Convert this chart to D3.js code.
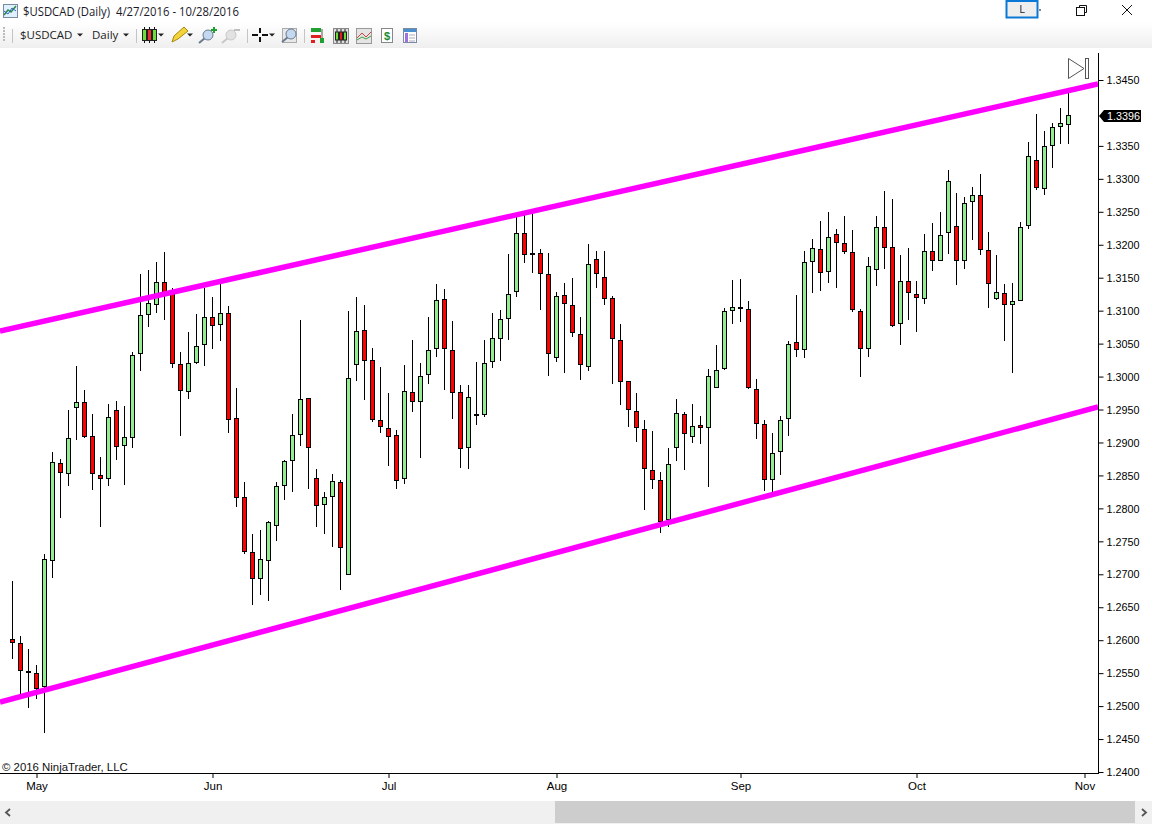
<!DOCTYPE html>
<html><head><meta charset="utf-8">
<script src="https://cdn.jsdelivr.net/npm/d3@7"></script>
<style>
html,body{margin:0;padding:0;background:#fff;overflow:hidden}
svg{display:block}
text{white-space:pre}
.ax text{font-family:"Liberation Sans",Arial,sans-serif;font-size:11px;fill:#000}
</style></head><body>
<script>
const opens=[1.26012,1.25952,1.25527,1.25497,1.25284,1.27206,1.28683,1.28516,1.29518,1.29609,1.29093,1.28501,1.28440,1.29487,1.28941,1.29062,1.30337,1.30929,1.31081,1.31430,1.31263,1.30185,1.29761,1.30201,1.30474,1.30899,1.30777,1.30959,1.29366,1.28167,1.27333,1.26923,1.27196,1.27727,1.28334,1.28714,1.29108,1.29669,1.28456,1.28046,1.28167,1.28395,1.26984,1.30170,1.30701,1.30246,1.29336,1.29214,1.29108,1.28440,1.29761,1.29609,1.30019,1.30413,1.31172,1.30398,1.29761,1.28911,1.29396,1.29412,1.30216,1.30565,1.30868,1.31278,1.32173,1.31870,1.31870,1.31551,1.30277,1.31233,1.31081,1.30641,1.30140,1.31779,1.31506,1.31187,1.30550,1.29928,1.29472,1.29199,1.28577,1.28425,1.27824,1.28911,1.29427,1.29078,1.29260,1.29214,1.29821,1.30110,1.30990,1.31050,1.31020,1.29806,1.29275,1.28425,1.28850,1.29351,1.30519,1.30398,1.31733,1.31930,1.31581,1.32158,1.32021,1.31885,1.30990,1.30413,1.31612,1.32264,1.31961,1.30792,1.31445,1.31247,1.31171,1.31900,1.31748,1.32173,1.32279,1.31748,1.32643,1.32749,1.31915,1.31171,1.31262,1.31081,1.31141,1.32279,1.33281,1.32841,1.33493,1.33781,1.33812];
const highs=[1.26898,1.26063,1.25861,1.25623,1.27307,1.28855,1.28749,1.29492,1.30160,1.29796,1.29432,1.28779,1.29583,1.29629,1.29553,1.30373,1.31556,1.31617,1.31738,1.31890,1.31339,1.30373,1.30676,1.30949,1.31344,1.31207,1.31404,1.31071,1.29826,1.28400,1.27611,1.27672,1.27808,1.28395,1.28734,1.29432,1.30858,1.29669,1.28597,1.28248,1.28521,1.28425,1.30995,1.31207,1.31086,1.30428,1.30145,1.29750,1.29189,1.30175,1.30555,1.30206,1.30904,1.31404,1.31329,1.30843,1.29867,1.29872,1.30216,1.30555,1.30964,1.31010,1.31860,1.32482,1.32467,1.32527,1.31930,1.31880,1.31283,1.31420,1.31496,1.30904,1.32012,1.31905,1.31905,1.31217,1.30798,1.29928,1.29751,1.29341,1.29174,1.28552,1.28916,1.29660,1.29462,1.29584,1.29402,1.30115,1.30479,1.31040,1.31465,1.31480,1.31146,1.29963,1.29341,1.29143,1.29396,1.30539,1.31237,1.31905,1.32082,1.32360,1.32497,1.32239,1.32436,1.32224,1.31025,1.31814,1.32436,1.32816,1.32694,1.31844,1.31950,1.31450,1.32163,1.32330,1.32497,1.33134,1.32785,1.32724,1.32876,1.33074,1.32193,1.31844,1.31404,1.31419,1.32340,1.33559,1.33984,1.33726,1.33842,1.34075,1.34297];
const lows=[1.25709,1.25183,1.24976,1.25112,1.24596,1.26948,1.27859,1.28339,1.29042,1.29073,1.28284,1.27722,1.28339,1.28739,1.28354,1.28921,1.30089,1.30757,1.30969,1.30863,1.30135,1.29103,1.29664,1.30190,1.30165,1.30423,1.30544,1.29149,1.28026,1.27312,1.26539,1.26690,1.26599,1.27510,1.28132,1.28253,1.28951,1.28299,1.27722,1.27616,1.27419,1.26766,1.26984,1.29938,1.29649,1.29305,1.29149,1.28648,1.28299,1.28375,1.29467,1.28769,1.29892,1.30302,1.29801,1.29361,1.28617,1.28602,1.29270,1.29391,1.30135,1.30241,1.30560,1.31212,1.31728,1.31576,1.31015,1.30013,1.30226,1.30059,1.30605,1.29953,1.30090,1.31349,1.31091,1.29892,1.29574,1.29240,1.29012,1.27980,1.28299,1.27631,1.27722,1.28724,1.28587,1.28997,1.28982,1.28329,1.29821,1.30094,1.30802,1.30833,1.29816,1.29057,1.28268,1.28253,1.28511,1.29103,1.30302,1.30287,1.31273,1.31303,1.31425,1.31349,1.31855,1.30985,1.29998,1.30302,1.31379,1.31637,1.30757,1.30484,1.30858,1.30681,1.31106,1.31606,1.31748,1.31864,1.31394,1.31632,1.32072,1.31850,1.31045,1.31156,1.30544,1.30059,1.31141,1.32244,1.32835,1.32760,1.33169,1.33533,1.33533];
const closes=[1.25952,1.25527,1.25507,1.25264,1.27226,1.28698,1.28531,1.29062,1.29609,1.29088,1.28516,1.28450,1.29381,1.28926,1.29078,1.30322,1.30929,1.31111,1.31430,1.31263,1.30185,1.29776,1.30201,1.30459,1.30899,1.30772,1.30959,1.29336,1.28152,1.27333,1.26923,1.27226,1.27788,1.28334,1.28714,1.29108,1.29654,1.28911,1.28031,1.28167,1.28410,1.27393,1.29973,1.30686,1.30231,1.29336,1.29229,1.29078,1.28410,1.29776,1.29609,1.30003,1.30398,1.31157,1.30413,1.29745,1.28896,1.29685,1.29427,1.30201,1.30580,1.30868,1.31248,1.32173,1.31839,1.31855,1.31551,1.30337,1.31217,1.31096,1.30656,1.30170,1.31703,1.31551,1.31172,1.30565,1.29913,1.29488,1.29214,1.28592,1.28425,1.27798,1.28668,1.29442,1.29123,1.29245,1.29214,1.30004,1.30095,1.30990,1.31050,1.31020,1.29831,1.29275,1.28425,1.28835,1.29336,1.30489,1.30398,1.31733,1.31946,1.31566,1.32113,1.32021,1.31885,1.31005,1.30413,1.31672,1.32264,1.31946,1.30772,1.31445,1.31262,1.31187,1.31900,1.31748,1.32143,1.32962,1.31748,1.32628,1.32749,1.31915,1.31399,1.31278,1.31081,1.31141,1.32264,1.33341,1.32856,1.33493,1.33781,1.33842,1.33963];
const monthTickIndex=[3,25,47,68,91,113,134];
const monthLabels=["May","Jun","Jul","Aug","Sep","Oct","Nov"];
const priceTicks=[1.2400,1.2450,1.2500,1.2550,1.2600,1.2650,1.2700,1.2750,1.2800,1.2850,1.2900,1.2950,1.3000,1.3050,1.3100,1.3150,1.3200,1.3250,1.3300,1.3350,1.3450];
const upperChannelIndex=[-1.5625,135.69], upperChannelPrice=[1.30691,1.34440];
const lowerChannelIndex=[-1.5625,135.69], lowerChannelPrice=[1.25061,1.29538];
const lastPrice=1.3396;
const titleText="$USDCAD (Daily)  4/27/2016 - 10/28/2016";
const copyright="\u00A9 2016 NinjaTrader, LLC";

const W=1152,H=824,AX=1098,BY=773;
const svg=d3.select("body").append("svg").attr("width",W).attr("height",H);
const defs=svg.append("defs");
const g=defs.append("linearGradient").attr("id","tb").attr("x1",0).attr("x2",0).attr("y1",0).attr("y2",1);
g.append("stop").attr("offset",0).attr("stop-color","#ffffff");
g.append("stop").attr("offset",1).attr("stop-color","#efefef");
defs.append("clipPath").attr("id","plot").append("rect").attr("x",0).attr("y",49).attr("width",AX).attr("height",BY-49);

const x=d3.scaleLinear().domain([0,132]).range([12.5,1068.5]);
const y=d3.scaleLinear().domain([1.24,1.345]).range([772,80]);

// chart
const plot=svg.append("g").attr("clip-path","url(#plot)");
const idx=d3.range(opens.length);
plot.append("g").selectAll("line").data(idx).join("line")
  .attr("x1",i=>x(i)).attr("x2",i=>x(i))
  .attr("y1",i=>Math.round(y(highs[i]))).attr("y2",i=>Math.round(y(lows[i])))
  .attr("stroke","#000").attr("stroke-width",1);
plot.append("g").selectAll("rect").data(idx).join("rect")
  .attr("x",i=>x(i)-2).attr("width",4)
  .attr("y",i=>Math.round(y(Math.max(opens[i],closes[i])))+0.5)
  .attr("height",i=>Math.max(1,Math.round(y(Math.min(opens[i],closes[i])))-Math.round(y(Math.max(opens[i],closes[i])))-1))
  .attr("fill",i=>closes[i]>=opens[i]?"#90EE90":"#FF0000")
  .attr("stroke","#000").attr("stroke-width",1);
[[upperChannelIndex,upperChannelPrice],[lowerChannelIndex,lowerChannelPrice]].forEach(([a,b])=>{
  plot.append("line").attr("x1",x(a[0])).attr("x2",x(a[1])).attr("y1",y(b[0])).attr("y2",y(b[1]))
    .attr("stroke","#FF00FF").attr("stroke-width",5.5);
});

// axes
const yAx=svg.append("g").attr("class","ax").attr("transform",`translate(${AX+0.5},0)`)
  .call(d3.axisRight(y).tickValues(priceTicks).tickFormat(d3.format(".4f")).tickSize(5).tickPadding(3));
yAx.select(".domain").remove();
yAx.selectAll("line").attr("stroke","#000");
yAx.selectAll("text").attr("textLength",33).attr("lengthAdjust","spacingAndGlyphs").style("font-size","11.5px");
const xAx=svg.append("g").attr("class","ax").attr("transform",`translate(0,${BY})`)
  .call(d3.axisBottom(x).tickValues(monthTickIndex).tickFormat((d,i)=>monthLabels[i]).tickSize(5).tickPadding(3.5));
xAx.select(".domain").remove();
xAx.selectAll("line").attr("stroke","#000");
xAx.selectAll("text").attr("fill","#000").style("font-size","11.5px");
svg.append("line").attr("x1",AX+0.5).attr("x2",AX+0.5).attr("y1",53).attr("y2",BY).attr("stroke","#000");
svg.append("line").attr("x1",0).attr("x2",AX+1).attr("y1",BY+0.5).attr("y2",BY+0.5).attr("stroke","#000");

// last price marker
const ly=Math.round(y(lastPrice));
svg.append("path").attr("d",`M${AX+1} ${ly}L${AX+6} ${ly-6}H1141V${ly+6}H${AX+6}Z`).attr("fill","#000");
svg.append("text").attr("x",1107).attr("y",ly+4).text(d3.format(".4f")(lastPrice))
  .attr("font-family","Liberation Sans").attr("font-size",11.5).attr("fill","#fff")
  .attr("textLength",33).attr("lengthAdjust","spacingAndGlyphs");

// copyright
svg.append("text").attr("x",2).attr("y",771).text(copyright)
  .attr("font-family","Liberation Sans").attr("font-size",11.4).attr("fill","#111");

// go-to-end icon
svg.append("path").attr("d","M1068.5 58.5L1084 68.5L1068.5 78.5Z").attr("fill","#fff").attr("stroke","#555");
svg.append("rect").attr("x",1085.5).attr("y",58.5).attr("width",3).attr("height",20).attr("fill","#fff").attr("stroke","#555");

// toolbar
svg.append("rect").attr("x",0).attr("y",0).attr("width",W).attr("height",22).attr("fill","#fff");
svg.append("rect").attr("x",0).attr("y",22).attr("width",W).attr("height",26).attr("fill","url(#tb)");
const uiFont="Open Sans";
svg.append("text").attr("x",23).attr("y",15.5).text(titleText).attr("font-family",uiFont).attr("font-size",12).attr("fill","#1a1a2a")
  .attr("textLength",216).attr("lengthAdjust","spacingAndGlyphs");
svg.append("text").attr("x",20).attr("y",39).text("$USDCAD").attr("font-family",uiFont).attr("font-size",11.5).attr("fill","#222");
svg.append("text").attr("x",92).attr("y",39).text("Daily").attr("font-family",uiFont).attr("font-size",11.5).attr("fill","#222");
const ui=svg.append("g");
const R=(a,b,w,h,f,s)=>ui.append("rect").attr("x",a).attr("y",b).attr("width",w).attr("height",h).attr("fill",f).attr("stroke",s||"none");
const L=(a,b,c,d,s,w)=>ui.append("line").attr("x1",a).attr("y1",b).attr("x2",c).attr("y2",d).attr("stroke",s).attr("stroke-width",w||1);
const P=(d,f,s,w)=>ui.append("path").attr("d",d).attr("fill",f).attr("stroke",s||"none").attr("stroke-width",w||1);
const arrow=(a)=>P(`M${a-3} 33.5h6l-3 3z`,"#222");
const mag=(cx,cy,fill,stroke)=>{L(cx-2,cy+2,cx-8,cy+7,stroke,2);ui.append("circle").attr("cx",cx+1).attr("cy",cy-1).attr("r",5).attr("fill",fill).attr("stroke",stroke);};
// title icon
R(3.5,4.5,14,13,"#dff0ff","#7a8aa0");P("M4 15L8 10L11 12L16 6","none","#2a8a3a",1.5);P("M4 11L8 14L12 8L16 11","none","#3060d0",1);
// grip + separators
for(let i=0;i<5;i++) R(3,27+i*3,2,2,"#bbb");
[12.5,136.5,247.5,304.5].forEach(a=>L(a,29,a,43,"#c4c4c4"));
arrow(80);arrow(126);
// candle icon
[[144.5,"#6fdc3c"],[149.5,"#e83030"],[154.5,"#6fdc3c"]].forEach(([a,c])=>{L(a,27,a,43,"#111");R(a-2,29.5,4,11,c,"#222");});
arrow(161);
// pencil
P("M172 42L174 36L184 27L188 31L178 39Z","#f3d23a","#a88a10");arrow(190);
// zoom in/out
mag(207,36,"#c4d8ef","#6a7a90");R(211,29,6,2,"#20a030");R(213,27,2,6,"#20a030");
mag(230,36,"#e2e2e2","#c8c8c8");R(234,29,6,2,"#c0c0c0");
// crosshair
R(252,34,6,2,"#111");R(262,34,6,2,"#111");R(259,28,2,5,"#111");R(259,37,2,5,"#111");arrow(272);
// zoom box
R(282.5,28.5,14,14,"#e8e8e8","#aaa");mag(290,35,"#c4d8ef","#6a7a90");
// data box icons
R(311,28,10,4,"#20a030");R(311,35,10,3,"#e02020");L(322,29,322,43,"#555");R(320,38,4,5,"#20a030");R(311,40,4,3,"#e02020");
R(333.5,28.5,15,15,"#ddd","#888");[[337,"#6fdc3c"],[341,"#e02020"],[345,"#6fdc3c"]].forEach(([a,c])=>{L(a,29,a,43,"#222");R(a-1.5,32,3,8,c,"#222");});
R(356.5,28.5,15,15,"#e4e4e4","#999");P("M357 38L362 33L366 37L371 32","none","#d04040");P("M357 40L362 37L366 39L371 36","none","#40a040");
R(381.5,28.5,11,14,"#fff","#888");ui.append("text").attr("x",384).attr("y",40).text("$").attr("font-family","Liberation Sans").attr("font-weight","bold").attr("font-size",11).attr("fill","#1c8a30");
R(403.5,28.5,13,14,"#fff","#7a8aa0");R(404,29,12,3,"#4a90d0");R(405,33,3,9,"#a070e0");[35,38,41].forEach(b=>L(409,b,415,b,"#aab"));
// window buttons
R(1006.5,1,31,16.5,"#eee","#0a78d7").attr("stroke-width",2);
svg.append("text").attr("x",1022).attr("y",13).attr("text-anchor","middle").text("L").attr("font-family","Open Sans").attr("font-size",11).attr("fill","#223");
L(1039,10,1041,10,"#111");
R(1076.5,7.5,8,8,"#fff","#111");P("M1079.5 7.5V5.5H1086.5V12.5H1084.5","none","#111");
L(1122,5,1132,15,"#111");L(1132,5,1122,15,"#111");

// scrollbar
svg.append("rect").attr("x",0).attr("y",801).attr("width",W).attr("height",23).attr("fill","#f0f0f0");
svg.append("rect").attr("x",555).attr("y",801).attr("width",580).attr("height",22).attr("fill","#cdcdcd");
svg.append("path").attr("d","M10 809L6 812.5L10 816").attr("fill","none").attr("stroke","#555").attr("stroke-width",1.8);
svg.append("path").attr("d","M1142 809L1146 812.5L1142 816").attr("fill","none").attr("stroke","#555").attr("stroke-width",1.8);
</script>
</body></html>
